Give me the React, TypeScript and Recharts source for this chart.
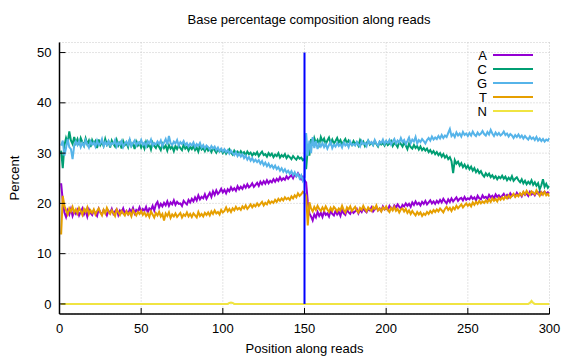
import React from 'react';
import { LineChart, Line, XAxis, YAxis, CartesianGrid, ReferenceLine } from 'recharts';

const positions: number[] = Array.from({ length: 300 }, (_, i) => i + 1);

const seriesA: number[] = [
  24.0, 20.5, 18.2, 17.3, 18.6, 17.8, 18.9, 17.5, 18.4, 17.9,
  18.7, 17.6, 18.3, 19.0, 17.8, 18.5, 17.4, 18.8, 18.1, 17.7,
  18.6, 18.0, 17.5, 18.9, 18.2, 17.8, 18.7, 18.3, 17.6, 18.5,
  18.1, 18.9, 17.9, 18.4, 18.8, 17.7, 18.6, 18.2, 19.0, 18.0,
  18.5, 17.9, 18.8, 18.3, 19.1, 18.0, 18.7, 18.4, 19.2, 18.3,
  18.9, 18.5, 19.3, 18.2, 19.0, 18.7, 19.5, 18.6, 19.8, 20.3,
  19.2, 19.9, 19.4, 20.1, 19.6, 20.4, 19.5, 20.2, 19.8, 20.6,
  19.7, 20.3, 19.9, 20.0, 19.5, 20.5, 20.1, 19.8, 20.7, 20.2,
  20.9, 20.4, 21.2, 20.6, 21.6, 20.8, 21.3, 21.0, 21.8, 20.9,
  21.5, 22.1, 21.3, 22.4, 21.7, 22.6, 21.9, 22.3, 22.9, 22.2,
  22.7, 22.0, 22.8, 22.4, 23.2, 22.6, 23.0, 22.5, 23.4, 22.8,
  23.3, 22.9, 23.6, 23.1, 23.8, 23.2, 23.5, 24.0, 23.3, 23.7,
  24.1, 23.5, 24.3, 23.8, 24.4, 23.9, 24.6, 24.0, 24.5, 24.2,
  24.8, 24.3, 24.9, 24.5, 25.2, 24.6, 25.0, 24.7, 25.4, 24.9,
  25.3, 25.6, 25.0, 25.8, 25.4, 26.0, 25.5, 24.8, 25.3, 24.6,
  24.2, 20.3, 18.0, 17.4, 16.6, 17.8, 17.2, 18.3, 17.5, 18.1,
  17.3, 18.4, 17.7, 18.0, 17.4, 18.6, 17.9, 17.6, 18.5, 17.8,
  18.3, 17.5, 18.7, 18.0, 17.7, 18.8, 18.2, 17.9, 18.6, 18.1,
  18.4, 18.9, 18.0, 18.7, 18.3, 19.1, 18.5, 18.2, 18.9, 18.6,
  19.2, 18.4, 18.8, 19.3, 18.6, 19.0, 18.5, 19.4, 18.8, 19.1,
  18.7, 19.5, 19.0, 18.8, 19.6, 19.2, 19.8, 19.3, 19.0, 19.7,
  19.4, 20.0, 19.5, 19.9, 19.3, 20.2, 19.7, 20.4, 19.8, 20.1,
  19.6, 20.3, 19.9, 20.5, 19.8, 20.2, 20.6, 20.0, 20.4, 19.9,
  20.5, 20.1, 20.7, 20.2, 20.9, 20.4, 20.0, 20.8, 20.3, 21.0,
  20.4, 20.8, 21.2, 20.5, 20.9, 21.1, 20.6, 21.3, 20.7, 21.0,
  20.8, 21.4, 20.9, 21.2, 20.6, 21.5, 21.0, 20.8, 21.6, 21.1,
  21.3, 20.9, 21.7, 21.2, 21.5, 21.0, 21.8, 21.3, 21.6, 21.1,
  21.5, 21.9, 21.3, 21.7, 21.2, 22.0, 21.5, 21.8, 21.4, 22.1,
  21.6, 21.9, 21.4, 22.2, 21.7, 22.0, 21.5, 22.3, 21.8, 22.1,
  21.6, 22.2, 21.9, 22.4, 21.8, 22.1, 22.3, 21.9, 22.2, 22.0,
];

const seriesC: number[] = [
  30.5, 27.0, 31.5, 33.0, 32.0, 34.3, 32.5, 31.8, 33.2, 32.0,
  32.8, 31.6, 33.0, 32.2, 31.5, 32.9, 31.8, 32.5, 31.2, 32.6,
  31.9, 32.4, 31.0, 32.7, 31.6, 32.2, 31.4, 32.8, 31.7, 32.3,
  31.1, 32.5, 31.8, 31.3, 32.6, 31.5, 32.1, 30.9, 32.4, 31.6,
  32.0, 31.2, 32.7, 31.4, 31.9, 30.8, 32.3, 31.5, 32.0, 31.1,
  31.8, 30.9, 32.2, 31.3, 31.7, 30.7, 32.1, 31.4, 31.0, 31.9,
  31.2, 30.6, 31.8, 31.0, 31.5, 30.5, 31.6, 30.9, 31.3, 30.4,
  31.4, 30.8, 31.5, 31.0, 30.6, 31.7, 30.9, 31.3, 30.5, 31.2,
  30.8, 31.4, 30.6, 31.1, 30.3, 31.5, 30.7, 31.0, 30.4, 31.2,
  30.5, 30.9, 30.2, 31.0, 30.6, 30.1, 30.8, 30.3, 30.7, 30.0,
  30.6, 29.9, 30.4, 30.8, 30.1, 29.7, 30.5, 30.0, 30.3, 29.8,
  30.4, 29.9, 30.2, 29.6, 30.3, 29.8, 30.1, 29.5, 30.0, 29.7,
  30.2, 29.4, 29.9, 30.3, 29.6, 29.8, 29.3, 30.0, 29.5, 29.9,
  29.2, 29.7, 29.4, 30.0, 29.1, 29.6, 29.3, 29.8, 29.0, 29.5,
  29.2, 28.8, 29.4, 29.0, 28.7, 29.3, 28.9, 29.1, 28.6, 28.9,
  26.8, 31.0, 29.5, 32.8, 31.5, 33.0, 32.0, 32.6, 31.7, 33.2,
  32.3, 32.9, 31.8, 32.5, 33.1, 32.0, 32.7, 31.9, 32.4, 33.0,
  32.1, 32.6, 31.7, 32.3, 32.8, 31.9, 32.5, 32.0, 31.6, 32.4,
  31.8, 32.2, 31.5, 32.6, 31.9, 32.3, 31.4, 32.0, 32.5, 31.7,
  32.1, 31.6, 32.4, 31.8, 31.3, 32.2, 31.7, 32.0, 31.5, 32.3,
  31.6, 31.9, 32.4, 31.4, 32.0, 31.7, 31.2, 32.2, 31.8, 31.3,
  32.1, 31.5, 30.8, 31.9, 31.2, 30.9, 31.6, 31.0, 31.4, 30.7,
  31.3, 30.6, 31.0, 30.5, 30.9, 30.2, 30.6, 30.0, 30.4, 29.8,
  30.2, 29.6, 30.0, 29.3, 29.8, 29.1, 29.5, 28.8, 29.2, 28.4,
  26.0, 28.6, 27.9, 28.3, 27.5, 28.0, 27.2, 27.7, 27.0, 27.5,
  26.8, 27.3, 26.5, 27.0, 26.2, 26.7, 26.0, 26.4, 25.7, 25.3,
  26.0, 25.5, 25.9, 25.2, 25.6, 25.0, 25.4, 24.8, 25.3, 25.0,
  25.5, 24.9, 25.3, 24.6, 25.1, 24.7, 25.4, 24.5, 24.9, 25.2,
  24.6, 24.2, 24.8, 24.0, 24.5, 23.8, 24.3, 23.9, 24.6, 23.7,
  24.2, 23.5, 24.0, 22.8, 23.6, 24.8, 23.3, 23.9, 23.1, 23.5,
];

const seriesG: number[] = [
  31.5, 32.5, 29.5, 31.0, 32.8, 31.2, 30.8, 28.8, 31.5, 32.3,
  31.6, 32.4, 31.2, 32.0, 31.4, 32.6, 31.8, 31.1, 32.3, 31.7,
  32.1, 31.3, 32.5, 31.6, 31.9, 32.8, 31.4, 32.2, 31.6, 32.4,
  31.5, 32.0, 31.8, 32.6, 31.3, 32.1, 31.7, 32.4, 31.2, 31.9,
  32.3, 31.6, 32.7, 31.4, 32.0, 32.5, 31.5, 32.2, 31.8, 32.6,
  31.6, 32.1, 31.3, 32.4, 31.9, 32.7, 31.5, 32.0, 31.7, 32.3,
  31.8, 32.5, 31.4, 32.1, 32.8, 31.7, 33.4, 32.0, 31.6, 32.3,
  31.9, 32.6, 31.5, 32.2, 31.8, 32.4, 31.6, 32.0, 31.3, 31.9,
  31.5, 32.1, 31.2, 31.8, 31.4, 32.0, 31.1, 31.6, 30.9, 31.5,
  31.2, 30.7, 31.4, 30.9, 31.3, 30.6, 31.1, 30.4, 30.9, 30.3,
  30.8, 30.2, 30.6, 29.9, 30.5, 30.0, 29.6, 30.2, 29.4, 29.9,
  29.3, 29.8, 29.0, 29.5, 28.7, 29.2, 28.5, 29.0, 28.3, 28.7,
  28.2, 28.6, 27.9, 28.4, 27.6, 28.1, 27.4, 27.9, 27.2, 27.6,
  27.0, 27.5, 26.8, 27.2, 26.5, 27.0, 26.3, 26.8, 26.1, 26.5,
  25.9, 26.4, 25.6, 26.2, 25.4, 25.9, 25.0, 25.6, 24.5, 25.2,
  34.0, 29.5, 32.5, 30.0, 33.2, 31.0, 32.4, 30.8, 31.9, 31.3,
  32.0, 31.2, 31.8, 30.9, 31.6, 32.2, 31.0, 31.7, 31.3, 32.0,
  31.4, 31.8, 31.1, 32.1, 31.5, 31.9, 31.2, 32.3, 31.6, 31.8,
  31.5, 32.2, 31.7, 31.3, 32.4, 31.8, 32.0, 31.4, 32.5, 31.9,
  32.2, 31.6, 32.6, 31.9, 31.5, 32.3, 32.0, 32.7, 31.8, 32.4,
  32.0, 32.6, 31.7, 32.3, 32.8, 31.9, 32.5, 32.1, 33.0, 32.2,
  32.6, 31.8, 32.4, 33.1, 32.0, 32.7, 32.3, 33.2, 31.9, 32.6,
  32.2, 32.8, 32.4, 31.9, 32.6, 33.0, 32.5, 33.3, 32.7, 33.1,
  32.8, 33.4, 32.9, 33.6, 33.0, 33.5, 33.2, 34.0, 34.8, 33.4,
  33.8, 33.2, 34.1, 33.5, 33.9, 33.3, 34.2, 33.6, 33.9, 33.4,
  34.0, 33.5, 34.3, 33.7, 33.4, 34.1, 33.6, 33.9, 34.4, 33.8,
  33.5, 34.2, 33.7, 34.6, 33.9, 33.4, 34.1, 33.6, 34.0, 33.5,
  33.8, 34.3, 33.6, 33.9, 33.3, 33.8, 33.5, 33.0, 33.6, 33.2,
  33.7, 33.1, 33.5, 32.9, 33.4, 33.0, 32.7, 33.3, 32.8, 33.1,
  32.6, 33.2, 32.5, 32.9, 32.4, 32.8, 32.3, 32.7, 32.5, 33.0,
];

const seriesT: number[] = [
  13.8, 21.5, 19.5, 18.6, 17.8, 19.0, 18.4, 19.3, 18.2, 18.8,
  18.0, 19.1, 18.5, 17.7, 18.9, 18.3, 19.2, 17.9, 18.6, 18.1,
  18.8, 17.8, 18.5, 19.0, 18.2, 17.6, 18.7, 18.0, 19.1, 18.4,
  17.9, 18.6, 18.1, 17.5, 18.8, 18.3, 17.7, 18.5, 18.0, 17.6,
  18.4, 17.8, 18.2, 17.4, 18.6, 18.1, 17.6, 18.3, 17.9, 18.5,
  17.7, 18.2, 17.5, 18.0, 17.3, 18.4, 17.8, 17.2, 18.1, 17.6,
  18.3, 17.4, 17.9, 16.6, 18.0, 17.5, 18.2, 17.1, 17.8, 17.4,
  18.0, 17.3, 17.7, 18.1, 17.2, 17.8, 17.5, 18.2, 17.4, 17.9,
  17.3, 18.0, 17.6, 17.2, 18.3, 17.5, 17.9, 17.4, 18.1, 17.7,
  18.2, 17.6, 18.4, 17.9, 18.6, 18.0, 18.3, 17.8, 18.7, 18.2,
  18.5, 19.2, 18.4, 18.9, 18.3, 19.0, 18.6, 19.3, 18.8, 19.1,
  18.7, 19.4, 19.0, 19.6, 18.9, 19.3, 19.8, 19.2, 19.7, 19.4,
  20.0, 19.5, 19.9, 20.3, 19.6, 20.1, 19.8, 20.5, 20.0, 20.4,
  20.1, 20.7, 20.3, 20.9, 20.5, 21.0, 20.6, 21.2, 20.8, 21.1,
  20.7, 21.4, 21.0, 21.6, 21.2, 22.0, 21.5, 21.8, 22.3, 22.0,
  21.5, 15.6, 20.2, 19.0, 18.4, 19.3, 18.7, 19.5, 18.9, 18.5,
  19.2, 18.6, 19.4, 18.8, 18.3, 19.1, 18.5, 19.3, 18.9, 18.4,
  19.0, 18.6, 19.5, 18.7, 18.2, 19.2, 18.8, 19.4, 18.5, 18.9,
  19.3, 18.6, 18.2, 19.1, 18.7, 19.5, 18.9, 18.4, 19.2, 18.8,
  18.5, 19.3, 18.9, 19.6, 18.6, 19.0, 18.4, 19.2, 18.8, 19.4,
  18.7, 18.3, 19.1, 18.6, 19.3, 18.5, 18.9, 18.2, 18.8, 19.0,
  18.4, 18.9, 18.1, 18.6, 17.9, 18.5, 18.0, 17.6, 18.3, 17.8,
  18.2, 17.5, 18.0, 17.7, 18.3, 17.9, 18.5, 18.1, 18.7, 18.3,
  18.8, 18.4, 19.0, 18.6, 18.2, 18.9, 19.3, 18.7, 19.1, 18.5,
  19.2, 18.8, 19.5, 19.0, 19.4, 19.8, 19.2, 19.6, 20.0, 19.5,
  19.9, 19.4, 20.2, 19.7, 20.3, 19.9, 20.5, 20.0, 20.4, 20.1,
  20.6, 20.2, 20.8, 20.3, 21.0, 20.5, 20.9, 20.4, 21.1, 20.7,
  21.2, 20.8, 21.4, 21.0, 21.6, 21.1, 21.5, 21.9, 21.3, 21.7,
  21.4, 22.0, 21.6, 22.3, 21.8, 22.5, 22.0, 21.7, 22.4, 22.1,
  21.8, 22.6, 22.0, 21.5, 22.2, 21.7, 22.3, 21.6, 21.9, 21.4,
];

const seriesN: number[] = [
  0, 0, 0, 0, 0, 0, 0, 0, 0, 0,
  0, 0, 0, 0, 0, 0, 0, 0, 0, 0,
  0, 0, 0, 0, 0, 0, 0, 0, 0, 0,
  0, 0, 0, 0, 0, 0, 0, 0, 0, 0,
  0, 0, 0, 0, 0, 0, 0, 0, 0, 0,
  0, 0, 0, 0, 0, 0, 0, 0, 0, 0,
  0, 0, 0, 0, 0, 0, 0, 0, 0, 0,
  0, 0, 0, 0, 0, 0, 0, 0, 0, 0,
  0, 0, 0, 0, 0, 0, 0, 0, 0, 0,
  0, 0, 0, 0, 0, 0, 0, 0, 0, 0,
  0, 0, 0, 0.2, 0.3, 0.2, 0, 0, 0, 0,
  0, 0, 0, 0, 0, 0, 0, 0, 0, 0,
  0, 0, 0, 0, 0, 0, 0, 0, 0, 0,
  0, 0, 0, 0, 0, 0, 0, 0, 0, 0,
  0, 0, 0, 0, 0, 0, 0, 0, 0, 0,
  0, 0, 0, 0, 0, 0, 0, 0, 0, 0,
  0, 0, 0, 0, 0, 0, 0, 0, 0, 0,
  0, 0, 0, 0, 0, 0, 0, 0, 0, 0,
  0, 0, 0, 0, 0, 0, 0, 0, 0, 0,
  0, 0, 0, 0, 0, 0, 0, 0, 0, 0,
  0, 0, 0, 0, 0, 0, 0, 0, 0, 0,
  0, 0, 0, 0, 0, 0, 0, 0, 0, 0,
  0, 0, 0, 0, 0, 0, 0, 0, 0, 0,
  0, 0, 0, 0, 0, 0, 0, 0, 0, 0,
  0, 0, 0, 0, 0, 0, 0, 0, 0, 0,
  0, 0, 0, 0, 0, 0, 0, 0, 0, 0,
  0, 0, 0, 0, 0, 0, 0, 0, 0, 0,
  0, 0, 0, 0, 0, 0, 0, 0, 0, 0,
  0, 0, 0, 0, 0, 0, 0, 0.2, 0.6, 0.2,
  0, 0, 0, 0, 0, 0, 0, 0, 0, 0,
];

const seriesNames: string[] = ['A', 'C', 'G', 'T', 'N'];
const seriesColors: string[] = ['#9400d3', '#009e73', '#56b4e9', '#e69f00', '#f0e442'];
const xTicks: number[] = [0, 50, 100, 150, 200, 250, 300];
const yTicks: number[] = [0, 10, 20, 30, 40, 50];
const splitPosition = 150;

const data = positions.map((p, i) => ({
  pos: p,
  A: seriesA[i],
  C: seriesC[i],
  G: seriesG[i],
  T: seriesT[i],
  N: seriesN[i],
}));

const FONT = '"Liberation Sans", Arial, Helvetica, sans-serif';
const tickStyle = { fill: '#000', fontSize: 13, fontFamily: FONT };

export default function App() {
  return (
    <div style={{ position: 'absolute', left: 0, top: 0, width: 576, height: 360, background: '#fff', fontFamily: FONT }}>
      <LineChart
        width={576}
        height={360}
        data={data}
        margin={{ top: 42.5, right: 26.5, bottom: 16, left: 19.5 }}
      >
        <CartesianGrid stroke="#c8c8c8" strokeDasharray="1 2" strokeWidth={1} />
        <XAxis
          dataKey="pos"
          type="number"
          domain={[0, 300]}
          ticks={xTicks}
          height={30}
          tickSize={-6}
          tickMargin={16}
          axisLine={{ stroke: '#000', strokeWidth: 1.5 }}
          tickLine={{ stroke: '#000', strokeWidth: 1 }}
          tick={tickStyle}
          allowDataOverflow
        />
        <XAxis
          xAxisId="top"
          orientation="top"
          dataKey="pos"
          type="number"
          domain={[0, 300]}
          ticks={xTicks}
          height={0}
          tickSize={-6}
          axisLine={{ stroke: '#000', strokeWidth: 1.5 }}
          tickLine={{ stroke: '#000', strokeWidth: 1 }}
          tick={false}
        />
        <YAxis
          type="number"
          domain={[-2, 52]}
          ticks={yTicks}
          width={40}
          tickSize={-6}
          tickMargin={14}
          axisLine={{ stroke: '#000', strokeWidth: 1.5 }}
          tickLine={{ stroke: '#000', strokeWidth: 1 }}
          tick={tickStyle}
          allowDataOverflow
        />
        <YAxis
          yAxisId="right"
          orientation="right"
          type="number"
          domain={[-2, 52]}
          ticks={yTicks}
          width={0}
          tickSize={-6}
          axisLine={{ stroke: '#000', strokeWidth: 1.5 }}
          tickLine={{ stroke: '#000', strokeWidth: 1 }}
          tick={false}
        />
        {seriesNames.map((name, i) => (
          <Line
            key={name}
            type="linear"
            dataKey={name}
            stroke={seriesColors[i]}
            strokeWidth={2}
            dot={false}
            activeDot={false}
            isAnimationActive={false}
          />
        ))}
        <ReferenceLine
          segment={[{ x: splitPosition, y: 0 }, { x: splitPosition, y: 50 }]}
          stroke="#0000ff"
          strokeWidth={2}
        />
      </LineChart>
      <div style={{ position: 'absolute', left: 0, width: 576, top: 12, textAlign: 'center', fontSize: 13, paddingLeft: 42 , boxSizing: 'border-box' }}>
        Base percentage composition along reads
      </div>
      <div style={{ position: 'absolute', left: 59.5, width: 490, top: 341, textAlign: 'center', fontSize: 13 }}>
        Position along reads
      </div>
      <div style={{ position: 'absolute', left: 14, top: 178, fontSize: 13, transform: 'translate(-50%, -50%) rotate(-90deg)', whiteSpace: 'nowrap' }}>
        Percent
      </div>
      <svg style={{ position: 'absolute', left: 0, top: 0 }} width={576} height={360}>
        {seriesNames.map((name, i) => (
          <g key={name}>
            <text x={487} y={55 + i * 14} textAnchor="end" dominantBaseline="central" fontSize={13} fontFamily={FONT} fill="#000">
              {name}
            </text>
            <line x1={493} x2={533} y1={55 + i * 14} y2={55 + i * 14} stroke={seriesColors[i]} strokeWidth={2} />
          </g>
        ))}
      </svg>
    </div>
  );
}
